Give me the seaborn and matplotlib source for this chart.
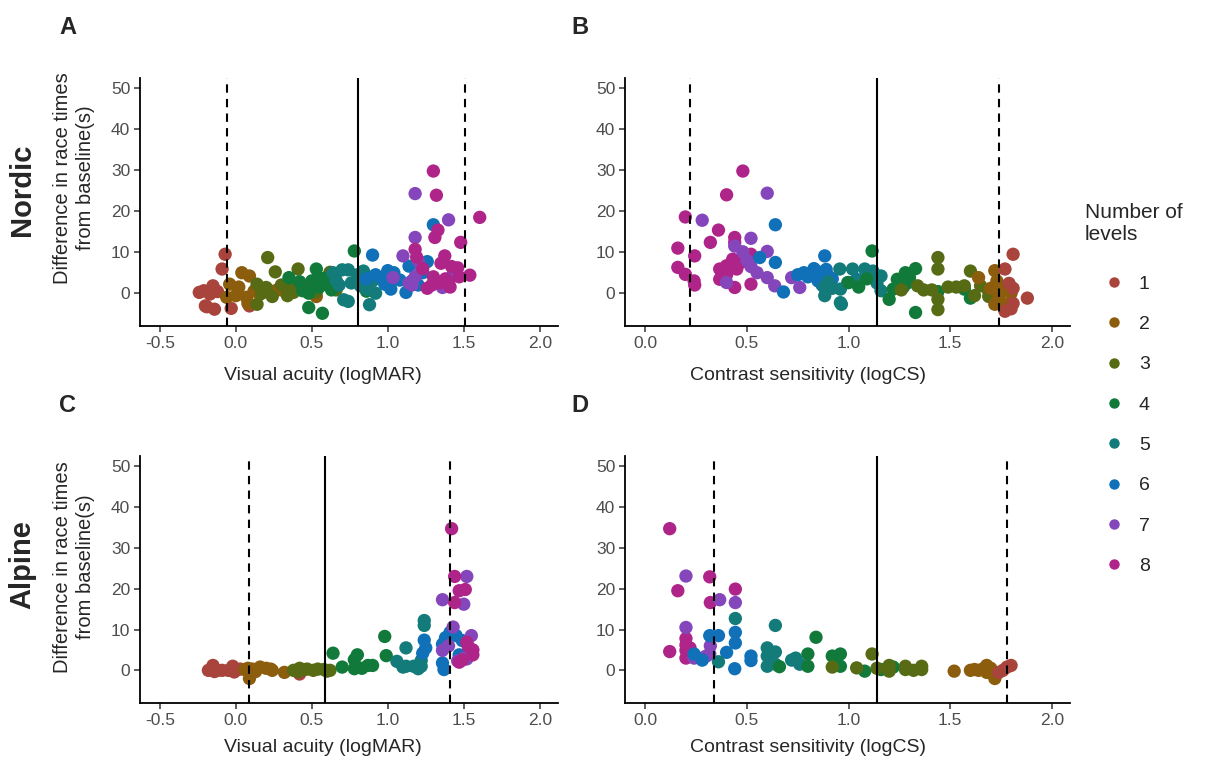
import numpy as np
import pandas as pd
import matplotlib
matplotlib.use("Agg")
import matplotlib.pyplot as plt
from matplotlib.lines import Line2D
import seaborn as sns

# ---- data: (x, difference in race time, number of levels) ----
levels = [1, 2, 3, 4, 5, 6, 7, 8]
level_colors = ["#A8443B", "#8B5D0C", "#566B14", "#117A3B",
                "#147B7B", "#1070B8", "#8446BA", "#AF2489"]

nordic_va_x = [
    -0.21, -0.15, -0.17, -0.20, -0.14, -0.07, -0.09, -0.03, 0.09, 0.44, -0.12, -0.24, -0.19,
    -0.04, -0.06, 0.04, 0.09, 0.00, 0.07, 0.16, 0.26, 0.30, 0.08, 0.12, 0.02, 0.34, 0.53,
    0.21, 0.26, 0.14, 0.14, 0.17, 0.34, 0.38, 0.36, 0.41, 0.20, 0.24, 0.62, 0.30, 0.53, 0.66, 0.49,
    0.35, 0.48, 0.57, 0.53, 0.50, 0.78, 0.58, 0.63, 0.48, 0.55, 0.60, 0.44, 0.66, 0.42, 0.54, 0.86,
    0.70, 0.74, 0.66, 0.71, 0.74, 0.88, 0.76, 0.80, 0.84, 0.86, 0.90, 0.64, 0.68, 0.82, 0.87, 0.92,
    0.90, 0.86, 0.92, 0.96, 1.00, 1.04, 1.02, 1.12, 1.08, 1.14, 1.30, 1.26, 0.98, 1.17, 1.20, 1.16, 1.23,
    1.18, 1.40, 1.18, 1.10, 1.035, 1.14, 1.18, 1.16, 1.36, 1.43, 1.22, 1.20,
    1.30, 1.32, 1.605, 1.33, 1.31, 1.48, 1.18, 1.19, 1.375, 1.35, 1.42, 1.46, 1.54, 1.34, 1.38,
    1.41, 1.29, 1.26, 1.30, 1.23, 1.47, 1.40,
]
nordic_va_y = [
    0.6, 1.8, -0.2, -3.1, -3.9, 9.5, 5.9, -3.7, -3.1, 1.0, 0.4, 0.2, -3.3,
    2.2, -1.0, 5.0, 4.2, -0.6, -1.0, -0.2, 0.6, 0.8, -2.5, 0.5, 1.5, 0.3, -0.8,
    8.7, 5.2, 2.2, -2.7, 0.0, -0.6, 0.2, 1.2, 5.9, 1.4, -0.8, 5.1, 2.0, 0.3, 0.8, 0.8,
    3.8, -3.5, -4.9, 5.9, 3.0, 10.3, 3.6, 0.8, 0.0, 1.5, 2.4, 0.6, 1.8, 2.8, 3.7, 0.5,
    5.7, 5.7, 3.2, -1.6, -2.0, -2.8, 2.5, 4.5, 5.4, 1.0, 3.0, 5.0, 2.0, 1.8, 4.0, 0.0,
    9.3, 3.5, 4.5, 3.8, 5.5, 5.0, 1.0, 0.2, 3.2, 6.6, 16.7, 7.7, 2.2, 2.3, 2.0, 3.0, 5.0,
    24.3, 17.9, 13.6, 9.1, 3.8, 2.5, 4.0, 2.0, 1.4, 4.6, 6.0, 8.0,
    29.8, 23.9, 18.5, 15.4, 13.6, 12.4, 10.7, 8.8, 9.1, 7.3, 6.5, 6.2, 4.4, 2.5, 3.5,
    1.5, 2.0, 1.2, 4.0, 6.0, 4.0, 2.6,
]
nordic_va_lvl = (
    [1] * 13 + [2] * 14 + [3] * 16 + [4] * 16 + [5] * 16 + [6] * 17 + [7] * 12 + [8] * 22
)

nordic_cs_x = [
    0.48, 0.40, 0.197, 0.36, 0.32, 0.44, 0.44, 0.16, 0.243, 0.52, 0.16, 0.197, 0.24, 0.243,
    0.366, 0.40, 0.43, 0.45, 0.366, 0.44, 0.52, 0.40, 0.47,
    0.60, 0.28, 0.52, 0.48, 0.60, 0.40, 0.60, 0.637, 0.72, 0.76, 0.52, 0.55, 0.50, 0.44,
    0.64, 0.563, 0.64, 0.883, 0.68, 0.78, 0.80, 0.82, 0.84, 0.86, 0.88, 0.90, 0.85, 0.87,
    0.92, 0.75, 1.04, 0.83, 0.89,
    0.883, 0.957, 0.96, 0.96, 0.965, 1.02, 1.08, 1.12, 0.996, 1.16, 1.16, 0.88, 0.92, 1.05,
    1.14, 0.90,
    1.00, 1.05, 1.116, 1.20, 1.24, 1.28, 1.33, 1.29, 1.27, 1.33, 1.44, 1.30, 1.57, 1.60,
    1.22, 1.09,
    1.37, 1.41, 1.44, 1.44, 1.44, 1.44, 1.49, 1.53, 1.57, 1.60, 1.62, 1.69, 1.69, 1.34,
    1.26, 1.65,
    1.64, 1.72, 1.73, 1.72, 1.75, 1.77, 1.78, 1.80, 1.70, 1.74,
    1.81, 1.77, 1.81, 1.81, 1.77, 1.80, 1.88, 1.79,
]
nordic_cs_y = [
    29.8, 24.0, 18.6, 15.4, 12.4, 13.6, 12.4, 11.0, 9.1, 9.5, 6.3, 4.6, 3.0, 2.0,
    5.9, 6.7, 8.3, 5.9, 3.4, 1.4, 2.2, 4.5, 7.5,
    24.4, 17.8, 13.4, 10.1, 10.2, 2.6, 3.8, 1.8, 3.8, 1.4, 6.5, 5.0, 8.0, 11.5,
    16.7, 8.7, 7.5, 9.1, 0.3, 5.0, 4.0, 4.5, 5.5, 3.5, 5.0, 4.2, 3.0, 2.0,
    3.5, 4.5, 3.4, 6.0, 5.8,
    -0.6, 5.9, 1.0, -2.3, -2.7, 5.9, 5.9, 5.4, 2.6, 4.2, 0.6, 1.5, 1.2, 3.0,
    2.5, 2.8,
    2.6, 1.5, 10.3, -1.5, 3.4, 5.0, 6.0, 2.5, 1.5, -4.7, 0.4, 3.8, 1.0, -1.2,
    1.0, 3.5,
    0.8, 0.8, 8.7, 5.9, -1.5, -4.0, 1.5, 1.5, 1.8, 5.4, -0.6, 0.4, -0.8, 1.8,
    0.8, 1.8,
    3.8, 5.5, 3.0, -2.7, 0.2, 1.5, -2.7, 0.0, 1.2, -1.0,
    9.5, 5.9, 1.2, -2.5, -4.4, -3.8, -1.2, 2.4,
]
nordic_cs_lvl = [8] * 23 + [7] * 14 + [6] * 19 + [5] * 16 + [4] * 16 + [3] * 16 + [2] * 10 + [1] * 8

alpine_va_x = [
    -0.18, -0.15, -0.12, -0.09, -0.05, -0.02, -0.01, 0.42, -0.14, 0.03,
    0.06, 0.09, 0.11, 0.16, 0.20, 0.23, 0.32, 0.08, 0.13, 0.24,
    0.38, 0.42, 0.45, 0.54, 0.58, 0.62, 0.60, 0.41, 0.47, 0.51,
    0.64, 0.70, 0.78, 0.80, 0.78, 0.87, 0.90, 0.98, 0.99, 0.83,
    1.06, 1.12, 1.12, 1.17, 1.20, 1.22, 1.24, 1.24, 1.10, 1.22,
    1.24, 1.23, 1.25, 1.36, 1.37, 1.36, 1.41, 1.45, 1.49, 1.47, 1.38,
    1.36, 1.52, 1.50, 1.43, 1.36, 1.55, 1.50, 1.46, 1.52, 1.40,
    1.42, 1.44, 1.47, 1.51, 1.44, 1.52, 1.56, 1.56, 1.49, 1.47, 1.53,
]
alpine_va_y = [
    0.0, 1.2, 0.0, 0.0, 0.0, 1.0, -0.4, -0.9, -0.3, 0.3,
    0.2, -2.0, 0.3, 0.8, 0.5, 0.3, -0.5, 0.5, -0.3, 0.0,
    0.0, 0.5, 0.2, 0.3, 0.2, 0.0, -0.2, -0.3, 0.3, 0.0,
    4.2, 0.8, 2.6, 3.8, 0.4, 1.2, 1.2, 8.3, 3.6, 0.5,
    2.2, 5.5, 1.0, 1.0, 0.4, 1.0, 12.2, 11.0, 0.8, 2.4,
    7.4, 4.2, 5.5, 6.4, 0.2, 1.8, 9.3, 8.5, 7.3, 3.8, 8.0,
    17.3, 23.0, 16.2, 10.6, 4.9, 8.5, 3.0, 2.3, 2.8, 6.0,
    34.7, 23.0, 19.5, 19.8, 16.6, 6.9, 5.0, 3.8, 2.5, 2.0, 5.8,
]
alpine_va_lvl = [1] * 10 + [2] * 10 + [3] * 10 + [4] * 10 + [5] * 10 + [6] * 11 + [7] * 10 + [8] * 11

alpine_cs_x = [
    0.12, 0.317, 0.16, 0.443, 0.32, 0.12, 0.20, 0.20, 0.20, 0.20, 0.22,
    0.20, 0.366, 0.443, 0.20, 0.24, 0.28, 0.317, 0.32, 0.30,
    0.317, 0.36, 0.443, 0.443, 0.40, 0.44, 0.52, 0.52, 0.24, 0.28,
    0.443, 0.64, 0.36, 0.60, 0.60, 0.60, 0.64, 0.64, 0.62, 0.72, 0.76, 0.74,
    0.84, 0.66, 0.80, 0.80, 0.92, 0.96, 0.94, 0.96, 1.08, 1.16, 1.22,
    1.116, 1.04, 0.92, 1.20, 1.20, 1.28, 1.28, 1.36, 1.36, 1.32, 1.14,
    1.52, 1.60, 1.64, 1.66, 1.68, 1.68, 1.72, 1.70, 1.62,
    1.76, 1.78, 1.80, 1.74,
]
alpine_cs_y = [
    34.7, 22.9, 19.5, 19.9, 16.6, 4.6, 7.8, 6.2, 4.9, 3.0, 5.5,
    23.1, 17.3, 16.6, 10.5, 3.0, 3.0, 4.0, 6.0, 3.5,
    8.5, 8.5, 9.3, 6.7, 4.4, 0.4, 3.5, 2.4, 4.0, 2.5,
    12.7, 11.0, 2.1, 5.5, 3.5, 1.0, 4.5, 1.5, 2.5, 2.5, 1.5, 3.0,
    8.1, 0.9, 4.0, 1.0, 3.5, 4.0, 1.5, 1.0, -0.2, 0.2, 0.8,
    4.0, 0.6, 0.8, 1.2, -0.2, 1.0, 0.2, 1.0, 0.2, 0.0, 0.5,
    -0.2, 0.0, 0.0, 0.3, 1.2, -0.5, -2.0, 0.5, 0.2,
    0.0, 0.8, 1.2, -0.5,
]
alpine_cs_lvl = [8] * 11 + [7] * 9 + [6] * 10 + [5] * 12 + [4] * 11 + [3] * 11 + [2] * 9 + [1] * 4

# reference lines: (dashed low, solid mid, dashed high)
nordic_va_lines = [-0.06, 0.807, 1.507]
nordic_cs_lines = [0.218, 1.138, 1.74]
alpine_va_lines = [0.085, 0.589, 1.41]
alpine_cs_lines = [0.337, 1.138, 1.778]

va_ticks = [-0.5, 0.0, 0.5, 1.0, 1.5, 2.0]
cs_ticks = [0.0, 0.5, 1.0, 1.5, 2.0]
y_ticks = [0, 10, 20, 30, 40, 50]

# ---- figure ----
sns.set_theme(style="ticks")
plt.rcParams["font.family"] = ["Liberation Sans", "DejaVu Sans"]

W, H = 1218, 765
fig = plt.figure(figsize=(W / 100, H / 100), dpi=100)
palette = dict(zip(levels, level_colors))


def frac_box(x0, y0, x1, y1):
    return [x0 / W, 1 - y1 / H, (x1 - x0) / W, (y1 - y0) / H]


panels = [
    (frac_box(140, 78, 558, 326), nordic_va_x, nordic_va_y, nordic_va_lvl,
     nordic_va_lines, va_ticks, (-0.63, 2.12)),
    (frac_box(625, 78, 1070, 326), nordic_cs_x, nordic_cs_y, nordic_cs_lvl,
     nordic_cs_lines, cs_ticks, (-0.10, 2.09)),
    (frac_box(140, 456, 558, 703), alpine_va_x, alpine_va_y, alpine_va_lvl,
     alpine_va_lines, va_ticks, (-0.63, 2.12)),
    (frac_box(625, 456, 1070, 703), alpine_cs_x, alpine_cs_y, alpine_cs_lvl,
     alpine_cs_lines, cs_ticks, (-0.10, 2.09)),
]

for box, xs, ys, lv, lines, xt, xlim in panels:
    ax = fig.add_axes(box)
    df = pd.DataFrame({"x": xs, "y": ys, "level": lv})
    sns.scatterplot(data=df, x="x", y="y", hue="level", palette=palette,
                    s=92, linewidth=0, alpha=1, legend=False, ax=ax, zorder=2)
    ax.axvline(lines[0], color="black", lw=1.5, ls=(0, (4, 3)), zorder=3)
    ax.axvline(lines[1], color="black", lw=1.5, zorder=3)
    ax.axvline(lines[2], color="black", lw=1.5, ls=(0, (4, 3)), zorder=3)
    ax.set_xlim(*xlim)
    ax.set_ylim(-8, 52.5)
    ax.set_xticks(xt)
    ax.set_xticklabels([f"{t:.1f}" for t in xt])
    ax.set_yticks(y_ticks)
    ax.set_xlabel("")
    ax.set_ylabel("")
    sns.despine(ax=ax)
    for s in ("left", "bottom"):
        ax.spines[s].set_linewidth(1.3)
        ax.spines[s].set_color("black")
    ax.tick_params(axis="both", labelsize=12.5, labelcolor="#4D4D4D",
                   color="#333333", length=4, width=1.1, pad=3)

# axis titles
for yc in (376, 748):
    fig.text(323 / W, 1 - yc / H, "Visual acuity (logMAR)", ha="center", va="center", fontsize=14)
    fig.text(808 / W, 1 - yc / H, "Contrast sensitivity (logCS)", ha="center", va="center", fontsize=14)

for yc in (178, 567):
    fig.text(74 / W, 1 - yc / H, "Difference in race times\nfrom baseline(s)",
             ha="center", va="center", rotation=90, fontsize=14.5, linespacing=1.3)

fig.text(22 / W, 1 - 190 / H, "Nordic", ha="center", va="center", rotation=90,
         fontsize=21, fontweight="bold")
fig.text(22 / W, 1 - 565 / H, "Alpine", ha="center", va="center", rotation=90,
         fontsize=21, fontweight="bold")

for lab, (px, py) in zip("ABCD", [(68, 27), (580, 27), (68, 405), (580, 405)]):
    fig.text(px / W, 1 - py / H, lab, ha="center", va="center", fontsize=17, fontweight="bold")

# legend: title drawn as text, entries as a figure legend
fig.text(1085 / W, 1 - 203 / H, "Number of\nlevels", ha="left", va="top",
         fontsize=15, linespacing=1.2)
handles = [Line2D([0], [0], marker="o", ls="", markersize=7.5, markeredgewidth=0,
                  markerfacecolor=c) for c in level_colors]
leg = fig.legend(handles, [str(l) for l in levels],
                 loc="upper left", bbox_to_anchor=(1098 / W, 1 - 275 / H),
                 frameon=False, fontsize=14, borderpad=0,
                 labelspacing=1.17, handletextpad=0.5, handlelength=1.6,
                 borderaxespad=0)

fig.savefig("out.png", dpi=100)
